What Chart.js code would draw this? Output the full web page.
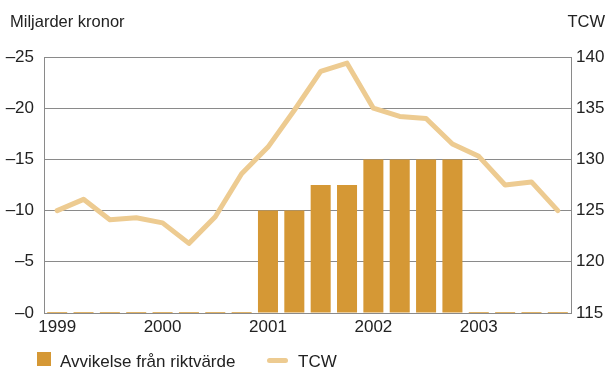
<!DOCTYPE html>
<html lang="sv">
<head>
<meta charset="utf-8">
<title>Avvikelse från riktvärde och TCW</title>
<script src="https://cdn.jsdelivr.net/npm/chart.js@4/dist/chart.umd.min.js"></script>
<style>
  html, body { margin: 0; padding: 0; background: #fff; }
  #wrap { position: relative; width: 607px; height: 367px; overflow: hidden;
          font-family: "Liberation Sans", Arial, sans-serif; color: #222; }
  #grafico { position: absolute; left: 0; top: 0; }
  .rubrik { position: absolute; top: 13px; font-size: 16.5px; line-height: 16px; white-space: nowrap; }
  #vanster { left: 10px; }
  #hoger { right: 2px; }
  #legend { position: absolute; left: 37px; top: 352px; font-size: 17px; line-height: 17px; white-space: nowrap; }
  .post { position: absolute; top: 0; }
  .ruta { position: absolute; left: 0; top: 0; width: 14px; height: 14px; }
  .linje { position: absolute; top: 6px; height: 5px; width: 21px; border-radius: 3px; }
</style>
</head>
<body>
<div id="wrap">
  <canvas id="grafico" width="607" height="367"></canvas>
  <div class="rubrik" id="vanster">Miljarder kronor</div>
  <div class="rubrik" id="hoger">TCW</div>
  <div id="legend"></div>
</div>
<script>
// kvartal 1999–2003
const kvartal = [
  '1999 K1', '1999 K2', '1999 K3', '1999 K4',
  '2000 K1', '2000 K2', '2000 K3', '2000 K4',
  '2001 K1', '2001 K2', '2001 K3', '2001 K4',
  '2002 K1', '2002 K2', '2002 K3', '2002 K4',
  '2003 K1', '2003 K2', '2003 K3', '2003 K4'
];
const arsEtiketter = [
  '1999', '', '', '', '2000', '', '', '', '2001', '', '', '',
  '2002', '', '', '', '2003', '', '', ''
];

// avvikelse från riktvärdet, miljarder kronor
const avvikelse = [0, 0, 0, 0, 0, 0, 0, 0, -10, -10, -12.5, -12.5, -15, -15, -15, -15, 0, 0, 0, 0];

// växelkursindex TCW
const tcw = [
  125.0, 126.1, 124.1, 124.3, 123.8, 121.8, 124.4, 128.6,
  131.2, 134.8, 138.6, 139.4, 135.0, 134.2, 134.0, 131.5,
  130.3, 127.5, 127.8, 125.0
];

const vansterTicks = [0, -5, -10, -15, -20, -25];
const hogerTicks = [115, 120, 125, 130, 135, 140];

const FARG_STAPEL = 'rgb(213, 152, 53)';
const FARG_LINJE = 'rgb(237, 203, 145)';
const FARG_GRID = '#8a8a8a';
const TEXT = '#222';
const FONT = 'Liberation Sans, Arial, sans-serif';

const chart = new Chart(document.getElementById('grafico').getContext('2d'), {
  data: {
    labels: kvartal,
    datasets: [
      {
        type: 'line',
        label: 'TCW',
        data: tcw,
        yAxisID: 'yTcw',
        borderColor: FARG_LINJE,
        borderWidth: 5,
        borderCapStyle: 'round',
        borderJoinStyle: 'round',
        pointRadius: 0,
        tension: 0,
        order: 0
      },
      {
        type: 'bar',
        label: 'Avvikelse från riktvärde',
        data: avvikelse,
        yAxisID: 'y',
        backgroundColor: FARG_STAPEL,
        categoryPercentage: 1,
        barPercentage: 0.76,
        minBarLength: 1.5,
        order: 1
      }
    ]
  },
  options: {
    responsive: false,
    animation: false,
    devicePixelRatio: 1,
    layout: { padding: { top: 57, bottom: 29, left: 0, right: 0 } },
    plugins: { legend: { display: false }, tooltip: { enabled: false } },
    scales: {
      x: {
        offset: true,
        grid: { display: false, drawTicks: false },
        border: { display: false },
        ticks: {
          autoSkip: false,
          maxRotation: 0,
          padding: 4,
          color: TEXT,
          font: { family: FONT, size: 17 },
          callback: (v, i) => arsEtiketter[i]
        },
        afterFit: s => { s.height = 25; }
      },
      y: {
        position: 'left',
        reverse: true,
        min: -25,
        max: 0,
        afterBuildTicks: s => { s.ticks = vansterTicks.map(v => ({ value: v })); },
        grid: { color: FARG_GRID, lineWidth: 1, drawTicks: false },
        border: { display: true, color: FARG_GRID, width: 1 },
        ticks: {
          padding: 10,
          color: TEXT,
          font: { family: FONT, size: 17 },
          callback: v => '\u2013' + Math.abs(v)
        },
        afterFit: s => { s.width = 44; }
      },
      yTcw: {
        position: 'right',
        min: 115,
        max: 140,
        afterBuildTicks: s => { s.ticks = hogerTicks.map(v => ({ value: v })); },
        grid: { display: false, drawTicks: false },
        border: { display: true, color: FARG_GRID, width: 1 },
        ticks: {
          padding: 5,
          color: TEXT,
          font: { family: FONT, size: 17 }
        },
        afterFit: s => { s.width = 36; }
      }
    }
  }
});

// teckenförklaring under diagrammet
const legend = document.getElementById('legend');
const stapelSet = chart.data.datasets[1];
const linjeSet = chart.data.datasets[0];
legend.innerHTML =
  '<div class="post" style="left:0"><span class="ruta" style="background:' + stapelSet.backgroundColor + '"></span>' +
  '<span style="position:absolute;left:23px;top:1px">' + stapelSet.label + '</span></div>' +
  '<div class="post" style="left:230px"><span class="linje" style="background:' + linjeSet.borderColor + '"></span>' +
  '<span style="position:absolute;left:31px;top:1px">' + linjeSet.label + '</span></div>';
</script>
</body>
</html>
